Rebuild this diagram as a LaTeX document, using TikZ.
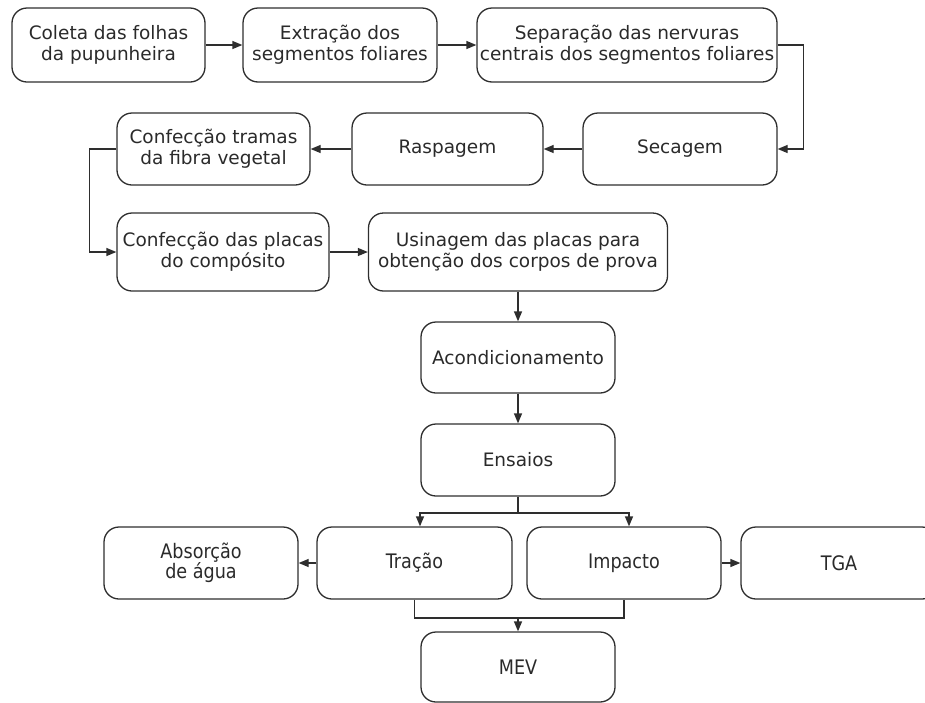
\documentclass[tikz,border=0pt]{standalone}
\usepackage{fontspec}
\setmainfont{DejaVu Sans}
\newfontfamily\condf{DejaVu Sans}[FakeStretch=0.88]
\usetikzlibrary{arrows.meta}
\definecolor{linec}{HTML}{2E2E2E}
\definecolor{textc}{HTML}{2A2A2A}
\begin{document}
\begin{tikzpicture}[x=1pt,y=-1pt,
  box/.style={draw=linec, line width=1.3pt, rounded corners=15pt, minimum width=#1, minimum height=72pt,
    align=center, inner sep=0pt, font=\fontsize{18.5}{21}\selectfont, text=textc},
  cbox/.style={box=#1, font=\condf\fontsize{20}{20}\selectfont},
  conn/.style={draw=linec, line width=1.3pt},
  arr/.style={conn, -{Triangle[length=10pt,width=8pt]}}]
\useasboundingbox (0,0) rectangle (925,702);
% row 1
\node[box=193pt, minimum height=74pt] (coleta) at (108.5,45) {Coleta das folhas\\da pupunheira};
\node[box=194pt, minimum height=74pt] (extr) at (340,45) {Extração dos\\segmentos foliares};
\node[box=300pt, minimum height=74pt] (sep) at (627,45) {Separação das nervuras\\centrais dos segmentos foliares};
% row 2
\node[box=194pt] (sec) at (680,149) {Secagem};
\node[box=191pt] (rasp) at (447.5,149) {Raspagem};
\node[box=193pt] (tram) at (213.5,149) {Confecção tramas\\da fibra vegetal};
% row 3
\node[box=212pt, minimum height=78pt] (plac) at (223,252) {Confecção das placas\\do compósito};
\node[box=299pt, minimum height=78pt] (usin) at (518,252) {Usinagem das placas para\\obtenção dos corpos de prova};
% column
\node[box=194pt, minimum height=71pt] (acond) at (518,357.5) {Acondicionamento};
\node[box=194pt] (ens) at (518,460) {Ensaios};
% tests
\node[cbox=194pt] (abs) at (201,563) {Absorção\\de água};
\node[cbox=195pt] (trac) at (414.5,563) {Tração};
\node[cbox=194pt] (imp) at (624,563) {Impacto};
\node[cbox=196pt] (tga) at (839,563) {TGA};
\node[cbox=194pt, minimum height=70pt] (mev) at (518,667) {MEV};
% connectors
\draw[arr] (coleta.east) -- (extr.west);
\draw[arr] (extr.east) -- (sep.west);
\draw[arr] (sep.east) -- ++(26,0) |- (sec.east);
\draw[arr] (sec.west) -- (rasp.east);
\draw[arr] (rasp.west) -- (tram.east);
\draw[arr] (tram.west) -- ++(-27,0) |- (plac.west);
\draw[arr] (plac.east) -- (usin.west);
\draw[arr] (usin.south) -- (acond.north);
\draw[arr] (acond.south) -- (ens.north);
\coordinate (split) at (518,513);
\draw[conn] (ens.south) -- (split);
\draw[arr] (split) -| ([xshift=5.5pt]trac.north);
\draw[arr] (split) -| ([xshift=5pt]imp.north);
\draw[arr] (trac.west) -- (abs.east);
\draw[arr] (imp.east) -- (tga.west);
\coordinate (merge) at (518,618);
\draw[conn] (trac.south) |- (merge) -| (imp.south);
\draw[arr] (merge) -- (mev.north);
\end{tikzpicture}
\end{document}
